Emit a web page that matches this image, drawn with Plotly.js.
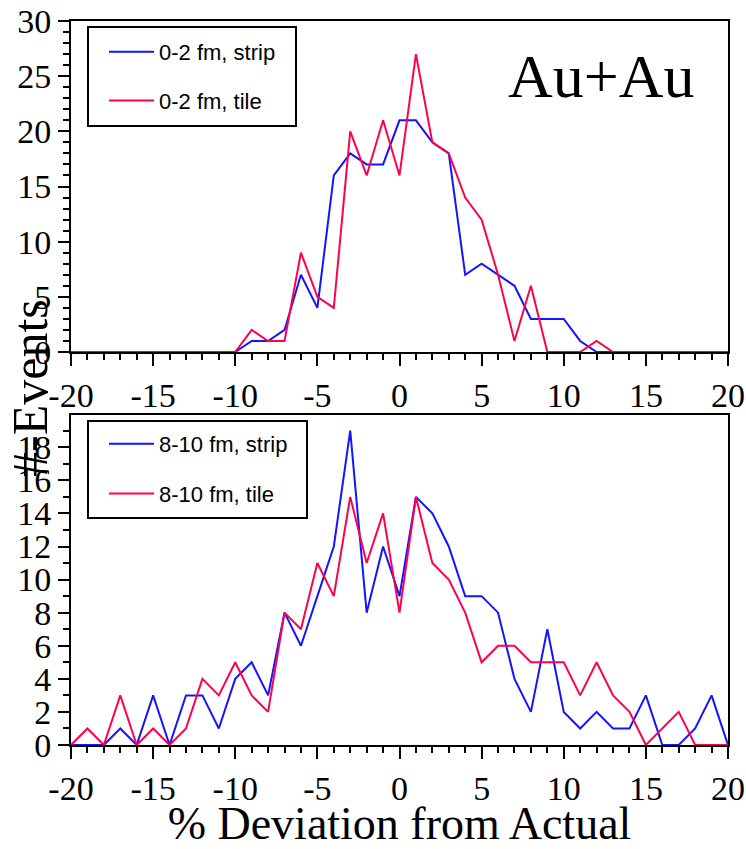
<!DOCTYPE html>
<html>
<head>
<meta charset="utf-8">
<script src="https://cdn.plot.ly/plotly-3.0.1.min.js"></script>
<style>html,body{margin:0;padding:0;background:#fff;}#chart{width:746px;height:849px;}</style>
</head>
<body>
<div id="chart"></div>
<script>
var deviation = [-20,-19,-18,-17,-16,-15,-14,-13,-12,-11,-10,-9,-8,-7,-6,-5,-4,-3,-2,-1,0,1,2,3,4,5,6,7,8,9,10,11,12,13,14,15,16,17,18,19,20];

var central_strip = [0,0,0,0,0,0,0,0,0,0,0,1,1,2,7,4,16,18,17,17,21,21,19,18,7,8,7,6,3,3,3,1,0,0,0,0,0,0,0,0,0];
var central_tile  = [0,0,0,0,0,0,0,0,0,0,0,2,1,1,9,5,4,20,16,21,16,27,19,18,14,12,7,1,6,0,0,0,1,0,0,0,0,0,0,0,0];

var peripheral_strip = [0,0,0,1,0,3,0,3,3,1,4,5,3,8,6,9,12,19,8,12,9,15,14,12,9,9,8,4,2,7,2,1,2,1,1,3,0,0,1,3,0];
var peripheral_tile  = [0,1,0,3,0,1,0,1,4,3,5,3,2,8,7,11,9,15,11,14,8,15,11,10,8,5,6,6,5,5,5,3,5,3,2,0,1,2,0,0,0];

var names = ["0-2 fm, strip", "0-2 fm, tile", "8-10 fm, strip", "8-10 fm, tile"];
var xTickVals = [-20, -15, -10, -5, 0, 5, 10, 15, 20];
var xTickText = ["-20", "-15", "-10", "-5", "0", "5", "10", "15", "20"];

var blue = "rgb(20,20,255)";
var red = "rgb(255,0,80)";

var W = 746, H = 849, L = 71, R = 18, T = 21, B = 104;
var pw = W - L - R, ph = H - T - B;
function px(x){ return (x - L) / pw; }
function py(y){ return (H - B - y) / ph; }

var serif = "Liberation Serif, Times New Roman, serif";
var sans = "Liberation Sans, Arial, sans-serif";

var traces = [
  {x: deviation, y: central_strip, type: "scatter", mode: "lines", name: names[0], line: {color: blue, width: 2}, xaxis: "x", yaxis: "y", legend: "legend", legendgroup: "a"},
  {x: deviation, y: central_tile, type: "scatter", mode: "lines", name: names[1], line: {color: red, width: 2}, xaxis: "x", yaxis: "y", legend: "legend", legendgroup: "b"},
  {x: deviation, y: peripheral_strip, type: "scatter", mode: "lines", name: names[2], line: {color: blue, width: 2}, xaxis: "x2", yaxis: "y2", legend: "legend2", legendgroup: "c"},
  {x: deviation, y: peripheral_tile, type: "scatter", mode: "lines", name: names[3], line: {color: red, width: 2}, xaxis: "x2", yaxis: "y2", legend: "legend2", legendgroup: "d"}
];

function xax(anchor, withTitle){
  var a = {
    anchor: anchor, range: [-20, 20],
    tickmode: "array", tickvals: xTickVals, ticktext: xTickText,
    showgrid: false, zeroline: false, showline: true, mirror: true,
    linecolor: "black", linewidth: 2,
    ticks: "outside", ticklen: 12, tickwidth: 2, tickcolor: "black",
    tickfont: {family: serif, size: 34, color: "black"},
    minor: {tickmode: "linear", tick0: 0, dtick: 1, ticks: "outside", ticklen: 6, tickwidth: 2, tickcolor: "black", showgrid: false}
  };
  if (withTitle) a.title = {text: "% Deviation from Actual", font: {family: serif, size: 46, color: "black"}, standoff: 11};
  return a;
}
function yax(anchor, domain, range, dtick){
  return {
    anchor: anchor, domain: domain, range: range, dtick: dtick, tick0: 0,
    showgrid: false, zeroline: false, showline: true, mirror: true,
    linecolor: "black", linewidth: 2,
    ticks: "outside", ticklen: 11, tickwidth: 2, tickcolor: "black",
    tickfont: {family: serif, size: 34, color: "black"},
    minor: {dtick: 1, ticks: "outside", ticklen: 6, tickwidth: 2, tickcolor: "black", showgrid: false}
  };
}

var layout = {
  width: W, height: H,
  margin: {l: L, r: R, t: T, b: B, pad: 0},
  paper_bgcolor: "white", plot_bgcolor: "white",
  showlegend: true,
  xaxis: xax("y", false),
  yaxis: yax("x", [py(352), 1], [0, 30], 5),
  xaxis2: xax("y2", true),
  yaxis2: yax("x2", [0, py(415)], [0, 19.95], 2),
  legend: {
    x: px(104), y: py(31), xanchor: "left", yanchor: "top",
    bgcolor: "rgba(0,0,0,0)", borderwidth: 0,
    font: {family: sans, size: 22, color: "black"},
    traceorder: "grouped", tracegroupgap: 17, itemwidth: 45
  },
  legend2: {
    x: px(104), y: py(423), xanchor: "left", yanchor: "top",
    bgcolor: "rgba(0,0,0,0)", borderwidth: 0,
    font: {family: sans, size: 22, color: "black"},
    traceorder: "grouped", tracegroupgap: 18, itemwidth: 45
  },
  shapes: [
    {type: "rect", xref: "paper", yref: "paper", x0: px(88), x1: px(296), y0: py(27), y1: py(126), line: {color: "black", width: 2}},
    {type: "rect", xref: "paper", yref: "paper", x0: px(88), x1: px(307), y0: py(421), y1: py(518), line: {color: "black", width: 2}}
  ],
  annotations: [
    {text: "Au+Au", xref: "paper", yref: "paper", x: px(601), y: py(76), xanchor: "center", yanchor: "middle", showarrow: false, font: {family: serif, size: 62, color: "black"}},
    {text: "#-Events", xref: "paper", yref: "paper", x: px(30), y: py(388), xanchor: "center", yanchor: "middle", textangle: -90, showarrow: false, font: {family: serif, size: 50, color: "black"}}
  ]
};

Plotly.newPlot("chart", traces, layout, {displayModeBar: false, staticPlot: true});
</script>
</body>
</html>
